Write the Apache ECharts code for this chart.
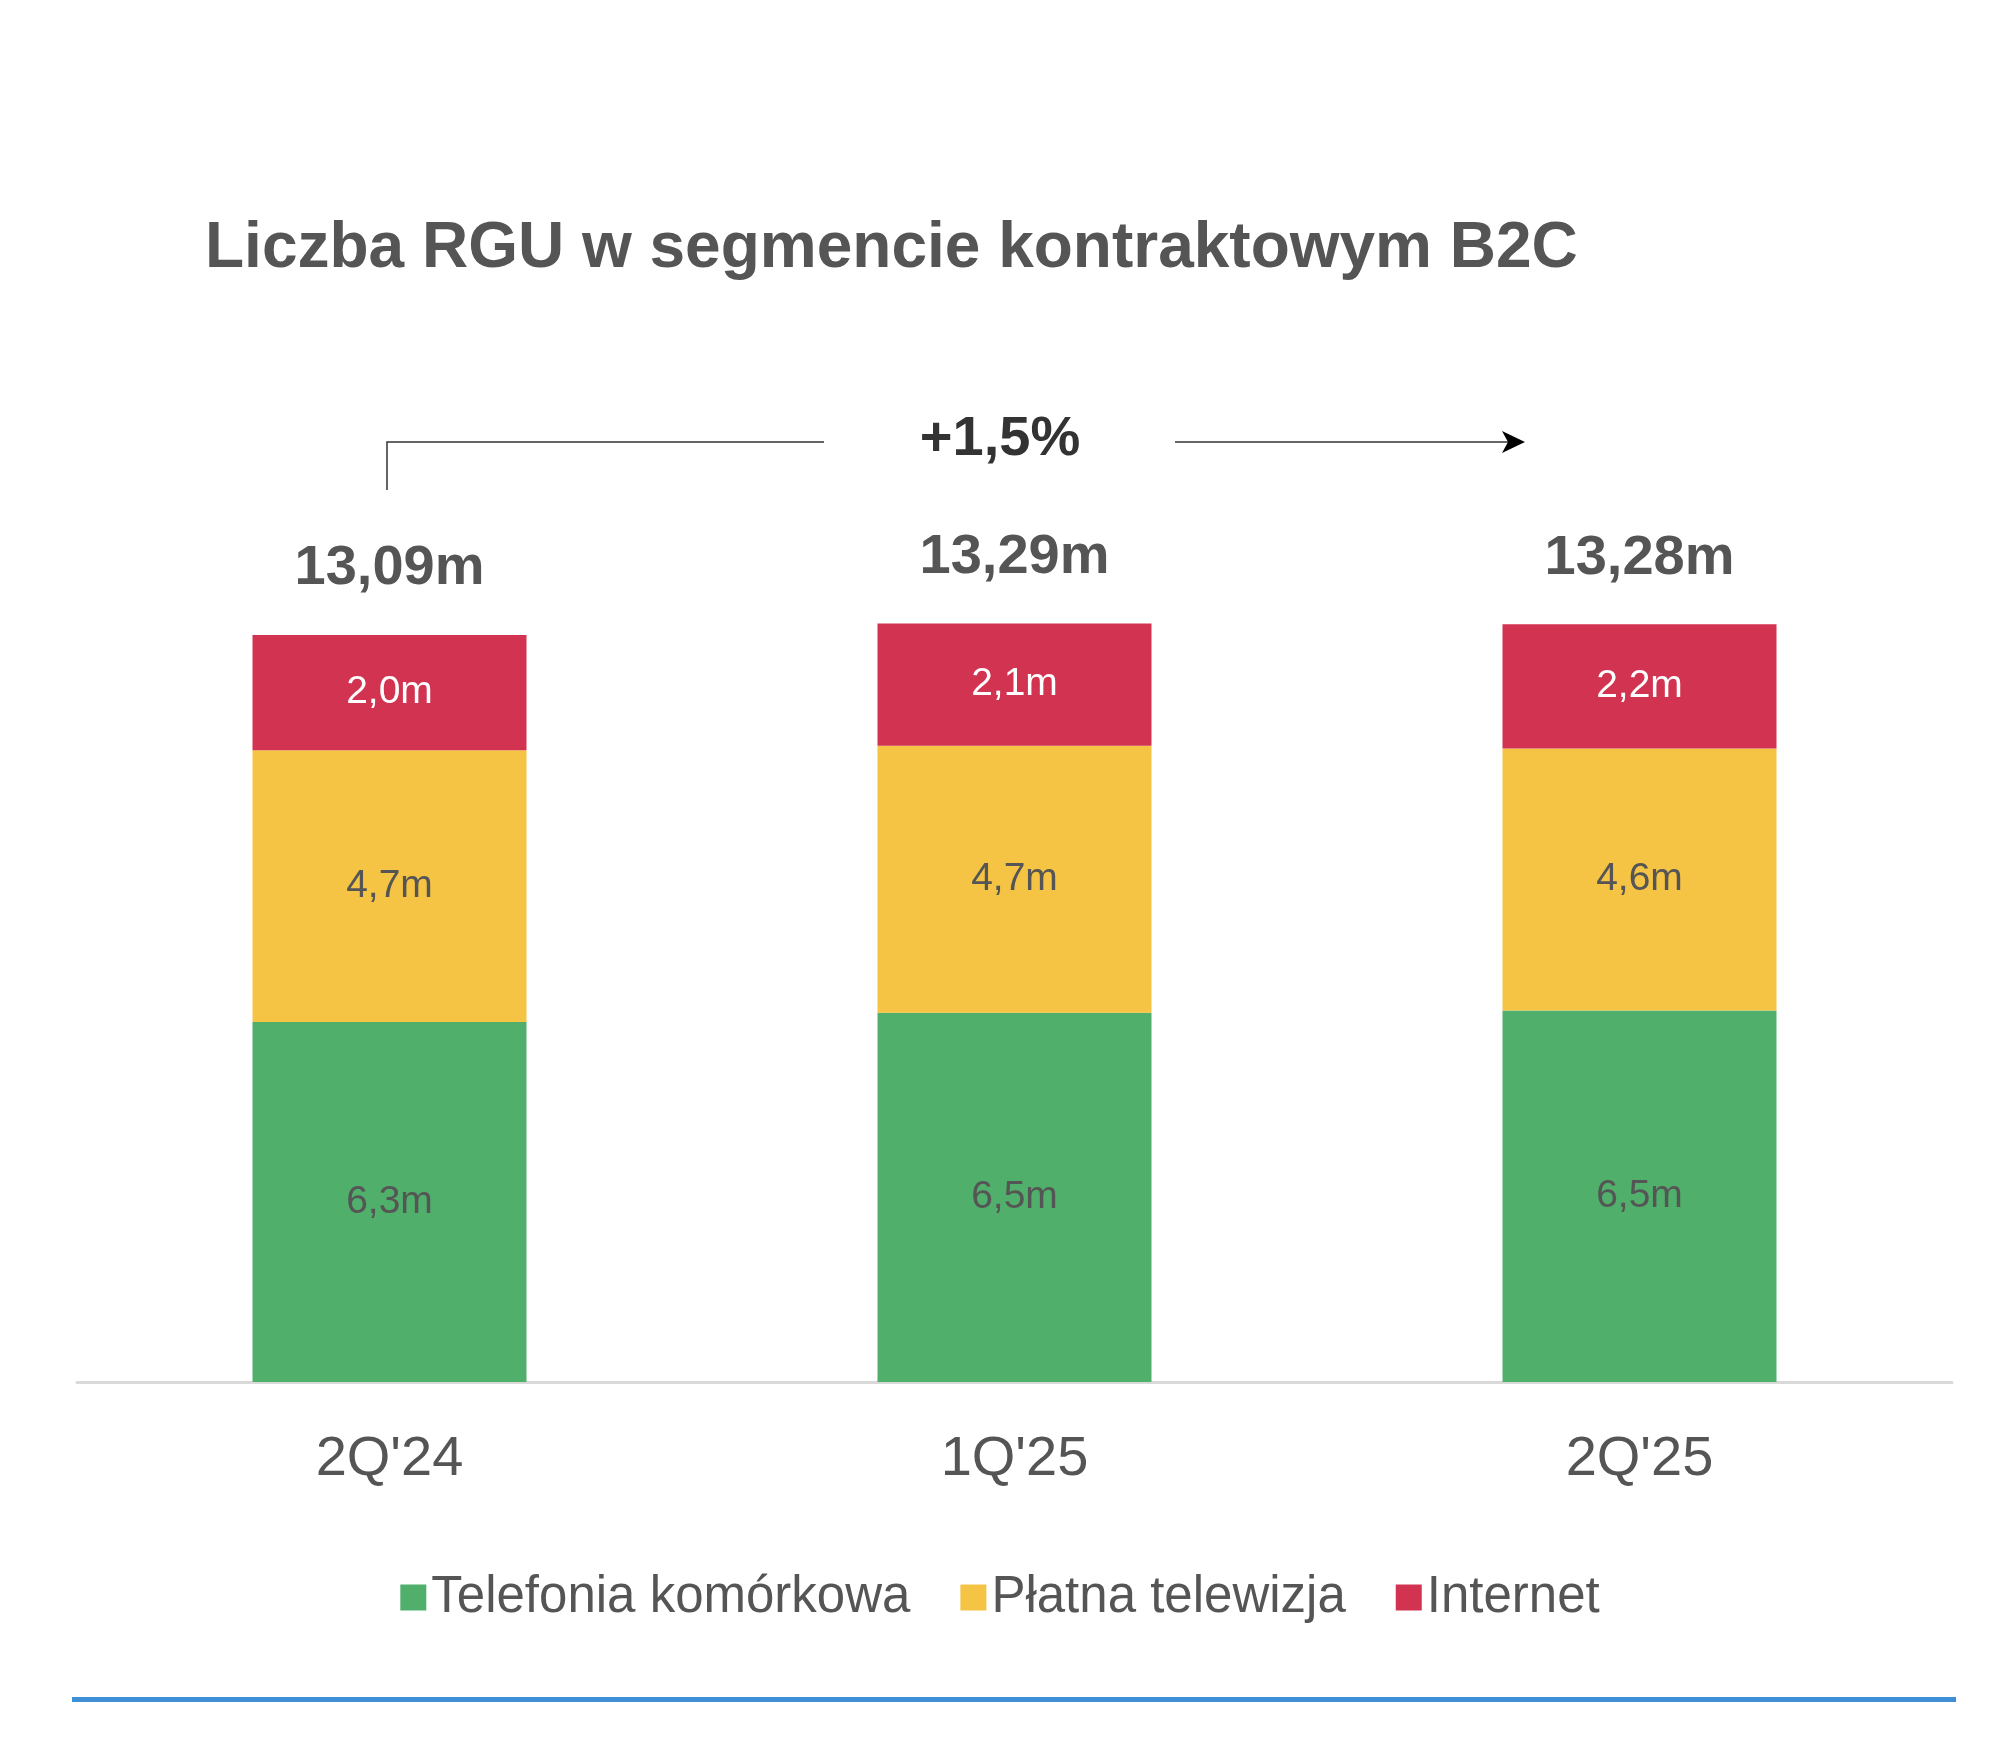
<!DOCTYPE html>
<html>
<head>
<meta charset="utf-8">
<script src="https://cdn.jsdelivr.net/npm/echarts@6/dist/echarts.min.js"></script>
<style>html,body{margin:0;padding:0;background:#fff}#chart{width:2000px;height:1758px}</style>
</head>
<body>
<div id="chart"></div>
<script>
var categories = ["2Q'24", "1Q'25", "2Q'25"];
var mobile = [6.31, 6.47, 6.51];
var payTv = [4.76, 4.68, 4.59];
var internet = [2.02, 2.14, 2.18];
var mobileLabels = ['6,3m', '6,5m', '6,5m'];
var payTvLabels = ['4,7m', '4,7m', '4,6m'];
var internetLabels = ['2,0m', '2,1m', '2,2m'];
var totalLabels = ['13,09m', '13,29m', '13,28m'];

var font = 'Liberation Sans, Arial, sans-serif';
var grey = '#555555';

var chart = echarts.init(document.getElementById('chart'));

function seg(name, data, labels, color, labelColor) {
    return {
        name: name,
        type: 'bar',
        stack: 'all',
        data: data,
        barWidth: 274,
        itemStyle: {color: color},
        label: {
            show: true,
            position: 'inside',
            color: labelColor,
            fontFamily: font,
            fontSize: 39,
            formatter: function (p) { return labels[p.dataIndex]; }
        }
    };
}

var totalSeries = {
    name: 'total',
    type: 'bar',
    stack: 'all',
    data: [0, 0, 0],
    barWidth: 274,
    label: {
        show: true,
        position: 'top',
        distance: 38,
        color: grey,
        fontFamily: font,
        fontWeight: 'bold',
        fontSize: 56,
        formatter: function (p) { return totalLabels[p.dataIndex]; }
    }
};

chart.setOption({
    animation: false,
    title: {
        text: 'Liczba RGU w segmencie kontraktowym B2C',
        left: 200,
        top: 212,
        textStyle: {color: grey, fontFamily: font, fontWeight: 'bold', fontSize: 64}
    },
    legend: {
        data: ['Telefonia komórkowa', 'Płatna telewizja', 'Internet'],
        bottom: 130,
        left: 'center',
        itemWidth: 26,
        itemHeight: 26,
        itemGap: 50,
        icon: 'rect',
        textStyle: {color: grey, fontFamily: font, fontSize: 51}
    },
    grid: {left: 77, right: 48, top: 623, bottom: 376},
    xAxis: {
        type: 'category',
        data: categories,
        axisLine: {lineStyle: {color: '#d9d9d9', width: 3}},
        axisTick: {show: false},
        axisLabel: {color: grey, fontFamily: font, fontSize: 56, margin: 50}
    },
    yAxis: {type: 'value', min: 0, max: 13.3, show: false, splitLine: {show: false}},
    series: [
        seg('Telefonia komórkowa', mobile, mobileLabels, '#50af6b', grey),
        seg('Płatna telewizja', payTv, payTvLabels, '#f5c445', grey),
        seg('Internet', internet, internetLabels, '#d13350', '#ffffff'),
        totalSeries
    ],
    graphic: [
        {type: 'polyline', shape: {points: [[387, 490], [387, 442], [824, 442]]}, style: {stroke: '#333', lineWidth: 1.5, fill: null}},
        {type: 'line', shape: {x1: 1175, y1: 442, x2: 1510, y2: 442}, style: {stroke: '#333', lineWidth: 1.5}},
        {type: 'polygon', shape: {points: [[1525, 442], [1502, 431], [1508, 442], [1502, 453]]}, style: {fill: '#000'}},
        {type: 'text', x: 1000, y: 440, style: {text: '+1,5%', font: 'bold 56px Liberation Sans, Arial, sans-serif', fill: '#333', align: 'center', verticalAlign: 'middle'}},
        {type: 'rect', shape: {x: 72, y: 1697, width: 1884, height: 5}, style: {fill: '#3d8fd6'}}
    ]
});
</script>
</body>
</html>
